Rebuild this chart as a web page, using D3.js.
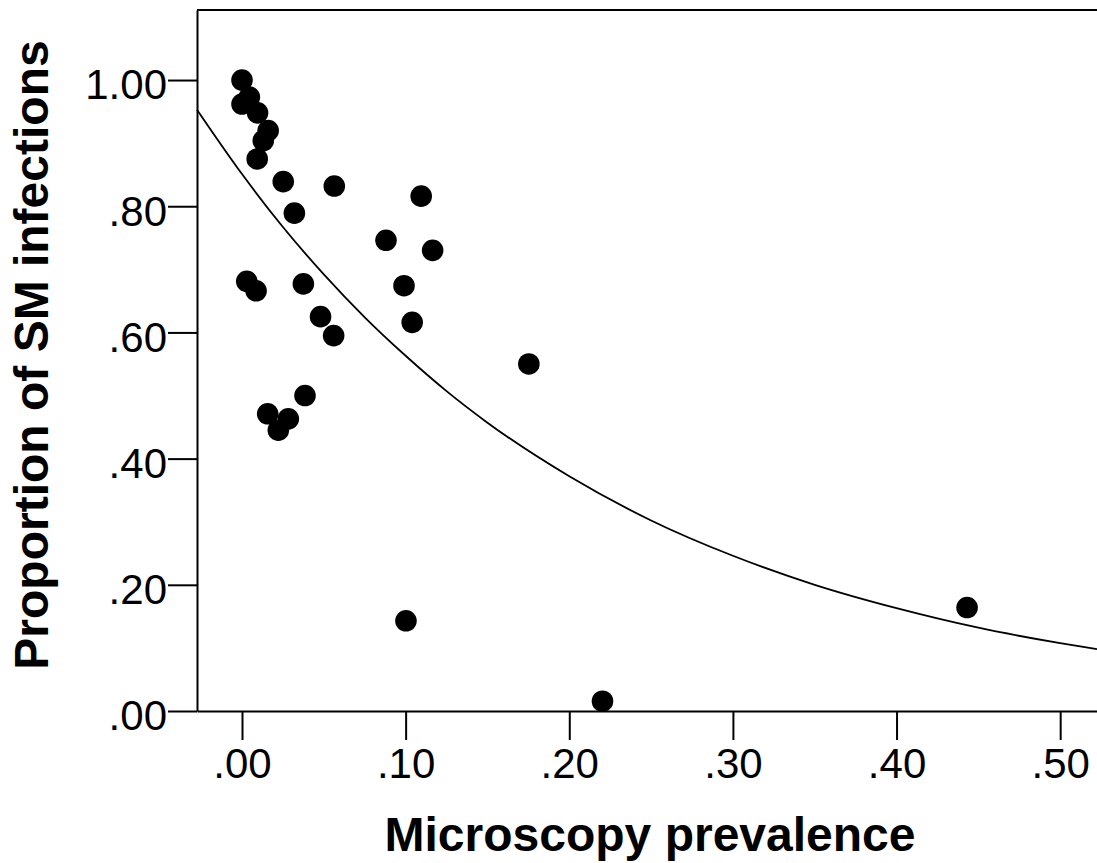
<!DOCTYPE html>
<html>
<head>
<meta charset="utf-8">
<script src="https://cdn.jsdelivr.net/npm/d3@7"></script>
<style>
  body { margin: 0; background: #fff; }
  svg { display: block; font-family: "Liberation Sans", Arial, sans-serif; }
</style>
</head>
<body>
<div id="scatter"></div>
<script>
// microscopy prevalence vs proportion of SM infections
const prevalence = [0.000, 0.000, 0.0045, 0.0095, 0.016, 0.013, 0.0093,
    0.0252, 0.0564, 0.1095, 0.032, 0.088, 0.1165, 0.0029, 0.0086, 0.0375,
    0.099, 0.048, 0.056, 0.104, 0.1753, 0.0385, 0.0157, 0.0283, 0.0222,
    0.1002, 0.2203, 0.4431]
const proportionSM = [1.000, 0.962, 0.973, 0.948, 0.920, 0.904, 0.875,
    0.839, 0.832, 0.816, 0.789, 0.746, 0.730, 0.681, 0.666, 0.677,
    0.674, 0.625, 0.595, 0.616, 0.550, 0.500, 0.471, 0.463, 0.445,
    0.143, 0.0155, 0.164]

// fitted curve
const fitX = [-0.0275, 0, 0.025, 0.05, 0.075, 0.10, 0.125, 0.15, 0.20, 0.25,
    0.30, 0.35, 0.40, 0.45, 0.50, 0.5225]
const fitY = [0.953, 0.851, 0.767, 0.692, 0.624, 0.563, 0.507, 0.457, 0.372, 0.302,
    0.246, 0.200, 0.163, 0.132, 0.1075, 0.098]

const xTicks = [0, 0.1, 0.2, 0.3, 0.4, 0.5]
const yTicks = [0, 0.2, 0.4, 0.6, 0.8, 1.0]

const W = 1097, H = 863
const plot = {left: 197, top: 10, right: 1097, bottom: 711}

const svg = d3.select("#scatter")
    .append("svg")
    .attr("width", W)
    .attr("height", H)

const x = d3.scaleLinear()
    .domain([-0.0275, 0.5225])
    .range([plot.left, plot.right])

const y = d3.scaleLinear()
    .domain([0, 1.111])
    .range([plot.bottom, plot.top])

const fmt = d => d3.format(".2f")(d).replace(/^0/, "")

// top frame line
svg.append("line")
    .attr("x1", plot.left).attr("x2", plot.right)
    .attr("y1", plot.top).attr("y2", plot.top)
    .attr("stroke", "#000")
    .attr("stroke-width", 2)

// x axis
const gx = svg.append("g")
    .attr("transform", `translate(0,${plot.bottom})`)
    .call(d3.axisBottom(x).tickValues(xTicks).tickFormat(fmt)
        .tickSize(29).tickSizeOuter(0).tickPadding(8))
gx.selectAll("text").style("font-size", "42px").attr("fill", "#000")

// y axis
const gy = svg.append("g")
    .attr("transform", `translate(${plot.left},0)`)
    .call(d3.axisLeft(y).tickValues(yTicks).tickFormat(fmt)
        .tickSize(29).tickSizeOuter(0).tickPadding(1))
gy.selectAll("text").style("font-size", "42px").attr("fill", "#000").attr("dy", "0.45em")

svg.selectAll(".domain, .tick line")
    .attr("stroke", "#000")
    .attr("stroke-width", 2)

// fitted curve
const line = d3.line()
    .x(i => x(fitX[i]))
    .y(i => y(fitY[i]))
    .curve(d3.curveMonotoneX)

svg.append("path")
    .attr("d", line(d3.range(fitX.length)))
    .attr("fill", "none")
    .attr("stroke", "#000")
    .attr("stroke-width", 1.8)

// points
svg.append("g")
    .selectAll("circle")
    .data(d3.range(prevalence.length))
    .enter().append("circle")
    .attr("cx", i => x(prevalence[i]))
    .attr("cy", i => y(proportionSM[i]))
    .attr("r", 10.8)
    .attr("fill", "#000")

// axis titles
svg.append("text")
    .attr("x", 650)
    .attr("y", 851)
    .attr("text-anchor", "middle")
    .style("font-size", "48px")
    .style("font-weight", "bold")
    .text("Microscopy prevalence")

svg.append("text")
    .attr("transform", "translate(48,355) rotate(-90)")
    .attr("text-anchor", "middle")
    .style("font-size", "48px")
    .style("font-weight", "bold")
    .text("Proportion of SM infections")
</script>
</body>
</html>
